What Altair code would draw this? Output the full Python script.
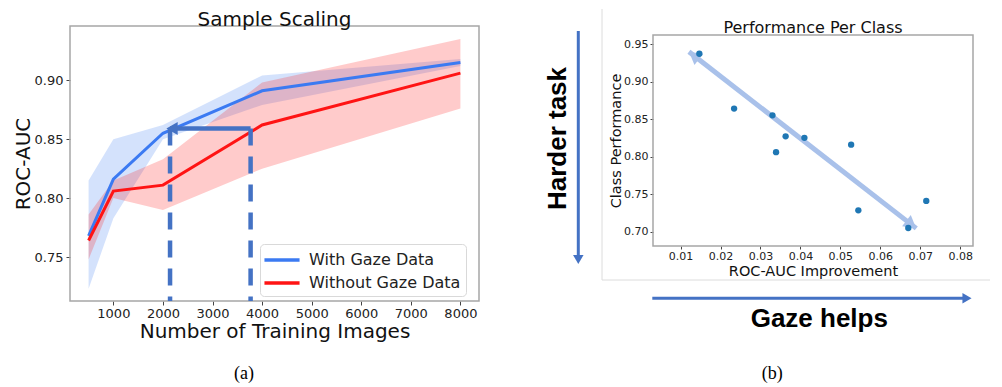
import altair as alt
import pandas as pd

# ---------------- panel (a): Sample Scaling ----------------
train_sizes = [500, 1000, 2000, 4000, 8000]
with_gaze = [0.768, 0.816, 0.855, 0.891, 0.915]
with_gaze_lo = [0.723, 0.783, 0.850, 0.879, 0.912]
with_gaze_hi = [0.815, 0.850, 0.862, 0.904, 0.918]
without_gaze = [0.764, 0.806, 0.811, 0.862, 0.906]
without_gaze_lo = [0.748, 0.800, 0.790, 0.825, 0.876]
without_gaze_hi = [0.786, 0.815, 0.833, 0.898, 0.935]
series_names = ["With Gaze Data", "Without Gaze Data"]
series_colors = ["#3b7af2", "#ff1414"]
x_ticks_a = [1000, 2000, 3000, 4000, 5000, 6000, 7000, 8000]
y_ticks_a = [0.75, 0.80, 0.85, 0.90]
x_domain_a = [125, 8375]
y_domain_a = [0.7127, 0.946]
# annotation arrow: same AUC reached with fewer images
dash_x = [2143, 3768]
arrow_y = 0.859
arrow_tip_x = 2062

# ---------------- panel (b): Performance Per Class ----------------
improvement = [0.0147, 0.0234, 0.0330, 0.0363, 0.0339, 0.0410, 0.0527, 0.0545, 0.0670, 0.0715]
class_perf = [0.937, 0.864, 0.855, 0.827, 0.806, 0.825, 0.816, 0.7285, 0.705, 0.741]
x_ticks_b = [0.01, 0.02, 0.03, 0.04, 0.05, 0.06, 0.07, 0.08]
y_ticks_b = [0.70, 0.75, 0.80, 0.85, 0.90, 0.95]
x_domain_b = [0.0031, 0.0832]
y_domain_b = [0.681, 0.962]
trend_x = [0.0121, 0.0690]
trend_y = [0.9397, 0.7045]

FONT = "DejaVu Sans"
ANNOT = "#4472c4"
FRAME = "#a6a6a6"

# ---- data tables ----
rows = []
for name, mid, lo, hi in [
    (series_names[0], with_gaze, with_gaze_lo, with_gaze_hi),
    (series_names[1], without_gaze, without_gaze_lo, without_gaze_hi),
]:
    for n, m, l, h in zip(train_sizes, mid, lo, hi):
        rows.append({"n": n, "auc": m, "lo": l, "hi": h, "series": name})
df_a = pd.DataFrame(rows)
df_dash = pd.DataFrame({"x": dash_x, "top": [arrow_y] * 2, "bottom": [y_domain_a[0]] * 2})
df_arrow = pd.DataFrame({"x": [dash_x[1]], "x2": [dash_x[0]], "y": [arrow_y]})
df_tip = pd.DataFrame({"x": [arrow_tip_x], "y": [arrow_y]})
df_frame_a = pd.DataFrame({"x0": [x_domain_a[0]], "x1": [x_domain_a[1]],
                           "y0": [y_domain_a[0]], "y1": [y_domain_a[1]]})
one = pd.DataFrame({"k": [0]})

xs_a = alt.Scale(domain=x_domain_a, nice=False, zero=False)
ys_a = alt.Scale(domain=y_domain_a, nice=False, zero=False)
cscale = alt.Scale(domain=series_names, range=series_colors)

ax_x_a = alt.Axis(values=x_ticks_a, format="d", title="Number of Training Images",
                  labelFontSize=13, tickSize=4, labelPadding=2,
                  titleFontSize=20, titleBaseline="alphabetic", titleY=36)
ax_y_a = alt.Axis(values=y_ticks_a, format=".2f", title="ROC-AUC",
                  labelFontSize=13, tickSize=4, labelPadding=3,
                  titleFontSize=20, titleAngle=270, titleBaseline="alphabetic",
                  titleX=-41, titleY=137.5, titleAlign="center")
leg_a = alt.Legend(
    title=None, orient="none", legendX=190, legendY=218,
    symbolType="M-1.95,0H1.95", symbolSize=324, symbolStrokeWidth=3.5, symbolOpacity=1,
    symbolOffset=6, labelOffset=16,
    labelFont=FONT, labelFontSize=16, labelColor="#222",
    padding=5, rowPadding=4, strokeColor="#d9d9d9", cornerRadius=4, fillColor="white")


def XA(f):
    return alt.X(f, scale=xs_a, axis=ax_x_a)


def YA(f):
    return alt.Y(f, scale=ys_a, axis=ax_y_a)


anchor = alt.Chart(one).mark_rule(opacity=0, strokeWidth=0).encode(
    x=alt.value(-62), x2=alt.value(-61), y=alt.value(-17))

frame_a = alt.Chart(df_frame_a).mark_rect(fill="transparent", stroke=FRAME, strokeWidth=1.5).encode(
    x=XA("x0:Q"), x2="x1:Q", y=YA("y0:Q"), y2="y1:Q")

bands = alt.Chart(df_a).mark_area(opacity=0.22).encode(
    x=XA("n:Q"), y=YA("lo:Q"), y2="hi:Q",
    color=alt.Color("series:N", scale=cscale, legend=leg_a),
)
lines = alt.Chart(df_a).mark_line(strokeWidth=3).encode(
    x=XA("n:Q"), y=YA("auc:Q"),
    color=alt.Color("series:N", scale=cscale, legend=leg_a),
)
dashes = alt.Chart(df_dash).mark_rule(color=ANNOT, strokeWidth=4.5, strokeDash=[17, 11]).encode(
    x=XA("x:Q"), y=YA("top:Q"), y2="bottom:Q")
shaft = alt.Chart(df_arrow).mark_rule(color=ANNOT, strokeWidth=4.5).encode(
    x=XA("x:Q"), x2="x2:Q", y=YA("y:Q"))
head = alt.Chart(df_tip).mark_point(shape="triangle-left", filled=True, size=170, opacity=1,
                                    color=ANNOT, xOffset=6).encode(
    x=XA("x:Q"), y=YA("y:Q"))
title_a = alt.Chart(pd.DataFrame({"t": ["Sample Scaling"]})).mark_text(
    font=FONT, fontSize=20, baseline="alphabetic", align="center", color="#111").encode(
    text="t:N", x=alt.value(204.5), y=alt.value(0))
cap_a = alt.Chart(pd.DataFrame({"t": ["(a)"]})).mark_text(
    font="Liberation Serif", fontSize=18, baseline="middle", align="center", color="#000").encode(
    text="t:N", x=alt.value(174), y=alt.value(348))

left = alt.layer(anchor, frame_a, bands, lines, dashes, shaft, head, title_a, cap_a).properties(
    width=409, height=275)

# ---- panel (b) ----
df_b = pd.DataFrame({"imp": improvement, "perf": class_perf})
df_trend = pd.DataFrame({"x": [trend_x[0]], "x2": [trend_x[1]], "y": [trend_y[0]], "y2": [trend_y[1]]})
df_frame_b = pd.DataFrame({"x0": [x_domain_b[0]], "x1": [x_domain_b[1]],
                           "y0": [y_domain_b[0]], "y1": [y_domain_b[1]]})
xs_b = alt.Scale(domain=x_domain_b, nice=False, zero=False)
ys_b = alt.Scale(domain=y_domain_b, range=[220, 9], nice=False, zero=False)

ax_x_b = alt.Axis(values=x_ticks_b, format=".2f", title="ROC-AUC Improvement",
                  labelFontSize=11, tickSize=3, labelPadding=1,
                  titleFontSize=14.5, titleBaseline="alphabetic", titleY=29, titleX=160)
ax_y_b = alt.Axis(values=y_ticks_b, format=".2f", title="Class Performance",
                  labelFontSize=11, tickSize=3, labelPadding=2,
                  titleFontSize=14.5, titleAngle=270, titleBaseline="alphabetic",
                  titleX=-33, titleY=114.5, titleAlign="center")


def XB(f):
    return alt.X(f, scale=xs_b, axis=ax_x_b)


def YB(f):
    return alt.Y(f, scale=ys_b, axis=ax_y_b)


frame_b = alt.Chart(df_frame_b).mark_rect(fill="transparent", stroke=FRAME, strokeWidth=1.5).encode(
    x=XB("x0:Q"), x2="x1:Q", y=YB("y0:Q"), y2="y1:Q")
trend = alt.Chart(df_trend).mark_rule(color="#a9c1ea", strokeWidth=5).encode(
    x=XB("x:Q"), x2="x2:Q", y=YB("y:Q"), y2="y2:Q")
trend_head1 = alt.Chart(pd.DataFrame({"x": [trend_x[0]], "y": [trend_y[0]]})).mark_point(
    shape="triangle-up", filled=True, size=200, opacity=1, color="#a9c1ea",
    angle=307.8, xOffset=5, yOffset=3.9).encode(x=XB("x:Q"), y=YB("y:Q"))
trend_head2 = alt.Chart(pd.DataFrame({"x": [trend_x[1]], "y": [trend_y[1]]})).mark_point(
    shape="triangle-up", filled=True, size=200, opacity=1, color="#a9c1ea",
    angle=127.8, xOffset=-5, yOffset=-3.9).encode(x=XB("x:Q"), y=YB("y:Q"))
points = alt.Chart(df_b).mark_circle(size=40, opacity=1, color="#1f77b4").encode(
    x=XB("imp:Q"), y=YB("perf:Q"))
title_b = alt.Chart(pd.DataFrame({"t": ["Performance Per Class"]})).mark_text(
    font=FONT, fontSize=16, baseline="alphabetic", align="center", color="#111").encode(
    text="t:N", x=alt.value(160), y=alt.value(6.7))

box_v = alt.Chart(one).mark_rule(color="#dcdcdc", strokeWidth=1).encode(
    x=alt.value(-51), y=alt.value(-17), y2=alt.value(254))
box_h = alt.Chart(one).mark_rule(color="#dcdcdc", strokeWidth=1).encode(
    x=alt.value(-51), x2=alt.value(337), y=alt.value(254))
harder = alt.Chart(pd.DataFrame({"t": ["Harder task"]})).mark_text(
    font="Liberation Sans", fontWeight="bold", fontSize=26, angle=270,
    baseline="middle", align="center", color="#000").encode(
    text="t:N", x=alt.value(-95), y=alt.value(112.5))
v_arrow = alt.Chart(one).mark_rule(color=ANNOT, strokeWidth=3).encode(
    x=alt.value(-74.7), y=alt.value(5), y2=alt.value(230))
v_head = alt.Chart(one).mark_point(shape="triangle-down", filled=True, size=110, opacity=1,
                                   color=ANNOT).encode(x=alt.value(-74.7), y=alt.value(233.5))
h_arrow = alt.Chart(one).mark_rule(color=ANNOT, strokeWidth=3).encode(
    x=alt.value(-0.7), x2=alt.value(311), y=alt.value(272.3))
h_head = alt.Chart(one).mark_point(shape="triangle-right", filled=True, size=110, opacity=1,
                                   color=ANNOT).encode(x=alt.value(314), y=alt.value(272.3))
gaze = alt.Chart(pd.DataFrame({"t": ["Gaze helps"]})).mark_text(
    font="Liberation Sans", fontWeight="bold", fontSize=26,
    baseline="alphabetic", align="center", color="#000").encode(
    text="t:N", x=alt.value(166.3), y=alt.value(300.7))
cap_b = alt.Chart(pd.DataFrame({"t": ["(b)"]})).mark_text(
    font="Liberation Serif", fontSize=18, baseline="middle", align="center", color="#000").encode(
    text="t:N", x=alt.value(119.3), y=alt.value(348.3))

right = alt.layer(box_v, box_h, frame_b, trend, trend_head1, trend_head2, points, title_b,
                  harder, v_arrow, v_head, h_arrow, h_head, gaze, cap_b).properties(
    width=320, height=220)

chart = alt.hconcat(left, right, spacing=174, bounds="flush").properties(
    padding=0
).configure_view(strokeOpacity=0).configure_axis(
    grid=False, domain=False, labelFont=FONT, titleFont=FONT, titleFontWeight="normal",
    labelColor="#222", titleColor="#111", tickColor="#444", tickWidth=1
)

chart.save("out.html", embed_options={"renderer": "svg", "actions": False})
